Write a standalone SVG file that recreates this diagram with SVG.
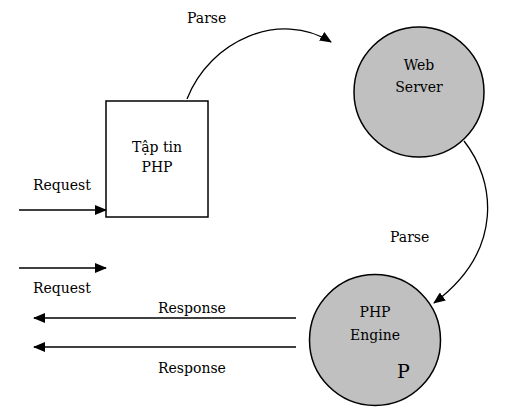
<svg xmlns="http://www.w3.org/2000/svg" width="524" height="416" viewBox="0 0 524 416">
<style>
text{font-family:"DejaVu Serif","Liberation Serif",serif;font-size:14px;fill:#000}
.c{text-anchor:middle}
.n{stroke:#000;stroke-width:1.5}
.e{fill:none;stroke:#000;stroke-width:1.3}
</style>
<defs>
<marker id="ah" markerWidth="12" markerHeight="10" refX="11" refY="5" orient="auto" markerUnits="userSpaceOnUse">
<path d="M0,0 L12,5 L0,10 Z" fill="#000"/>
</marker>
</defs>
<rect width="524" height="416" fill="#fff"/>
<g id="file">
<rect class="n" x="106" y="101" width="102" height="116" fill="#fff"/>
<text class="c" x="157" y="152">Tập tin</text>
<text class="c" x="157" y="172">PHP</text>
</g>
<g id="webserver">
<circle class="n" cx="419" cy="92" r="65" fill="#c0c0c0"/>
<text class="c" x="419" y="70">Web</text>
<text class="c" x="419" y="92">Server</text>
</g>
<g id="phpengine">
<circle class="n" cx="375" cy="340" r="65.5" fill="#c0c0c0"/>
<text class="c" x="375" y="317">PHP</text>
<text class="c" x="375" y="340">Engine</text>
<text x="397" y="378" style="font-size:19px">P</text>
</g>
<g id="connectors">
<path class="e" d="M187,99 C210,40 280,10 331,42" marker-end="url(#ah)"/>
<path class="e" d="M464,141 C495,180 505,250 434,303" marker-end="url(#ah)"/>
<line class="e" x1="19" y1="210" x2="106" y2="210" marker-end="url(#ah)"/>
<line class="e" x1="19" y1="268" x2="106" y2="268" marker-end="url(#ah)"/>
<line class="e" x1="296" y1="318" x2="34" y2="318" marker-end="url(#ah)"/>
<line class="e" x1="296" y1="347" x2="34" y2="347" marker-end="url(#ah)"/>
<text x="187" y="23">Parse</text>
<text x="390" y="242">Parse</text>
<text x="33" y="190">Request</text>
<text x="33" y="293">Request</text>
<text x="158" y="313">Response</text>
<text x="158" y="373">Response</text>
</g>
</svg>
